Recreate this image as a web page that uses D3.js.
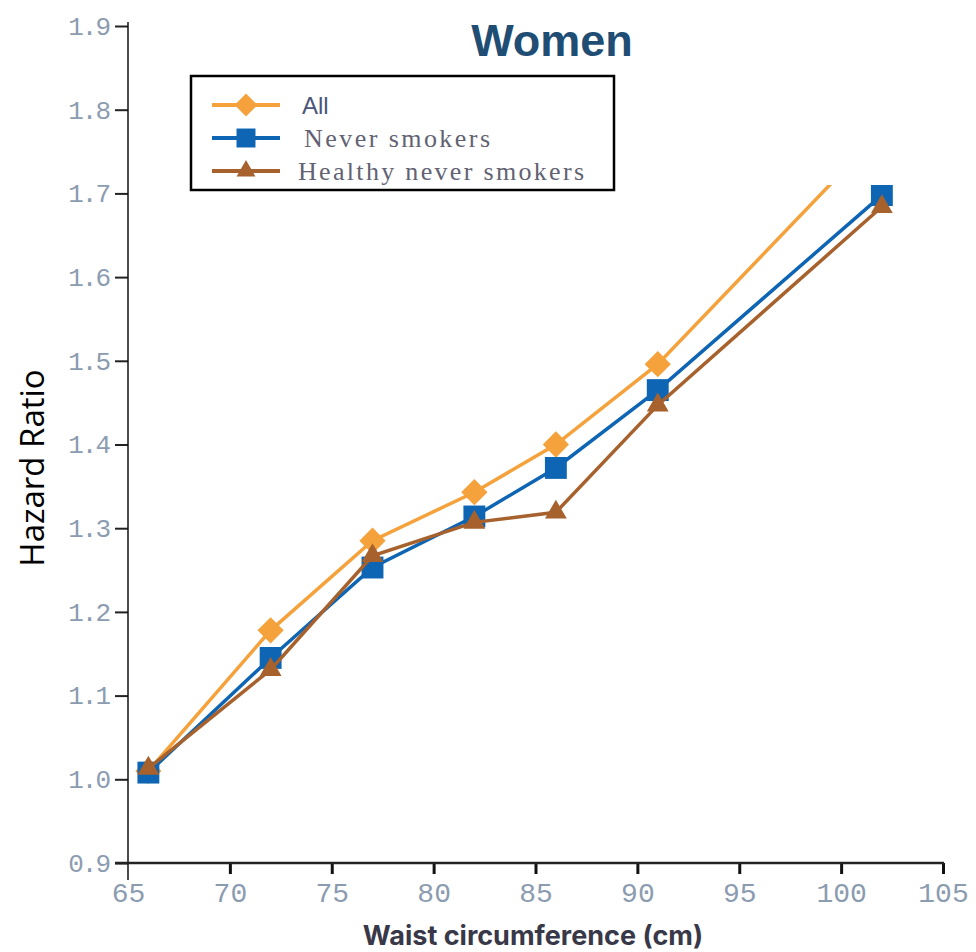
<!DOCTYPE html>
<html>
<head>
<meta charset="utf-8">
<script src="https://cdn.jsdelivr.net/npm/d3@7"></script>
<style>
  body { margin: 0; background: #fff; }
  .tick text { font-family: "Liberation Mono", monospace; fill: #8c9cb0; }
</style>
</head>
<body>
<div id="chart"></div>
<script>
// waist circumference categories (cm)
var waist = [66, 72, 77, 82, 86, 91, 102];
var allHR = [1.01, 1.178, 1.285, 1.343, 1.400, 1.496, 1.775];
var neverHR = [1.008, 1.145, 1.253, 1.314, 1.372, 1.465, 1.698];
var healthyHR = [1.013, 1.131, 1.267, 1.307, 1.319, 1.447, 1.684];
var seriesNames = ["All", "Never smokers", "Healthy never smokers"];
var xTicks = [65, 70, 75, 80, 85, 90, 95, 100, 105];
var yTicks = [0.9, 1.0, 1.1, 1.2, 1.3, 1.4, 1.5, 1.6, 1.7, 1.8, 1.9];

var width = 976, height = 952;
var svg = d3.select('#chart').append('svg')
  .attr('width', width)
  .attr('height', height);

var xScale = d3.scaleLinear().domain([65, 105]).range([128, 943]);
var yScale = d3.scaleLinear().domain([0.9, 1.9]).range([863, 26]);

var series = [
  { name: seriesNames[0], values: allHR, color: '#f5a23c', symbol: d3.symbolDiamond2, size: 440 },
  { name: seriesNames[1], values: neverHR, color: '#0e65b3', symbol: d3.symbolSquare2, size: 610 },
  { name: seriesNames[2], values: healthyHR, color: '#a6612d', symbol: d3.symbolTriangle2, size: 340 }
];

// title
svg.append('text')
  .attr('x', 552).attr('y', 56)
  .attr('text-anchor', 'middle')
  .style('font-family', '"Liberation Sans", Arial, sans-serif')
  .style('font-weight', 'bold')
  .style('font-size', '45px')
  .style('fill', '#1f4d74')
  .text('Women');

// axes
var yAxis = d3.axisLeft(yScale).tickValues(yTicks).tickFormat(d3.format('.1f')).tickSize(13).tickPadding(6);
var gy = svg.append('g').attr('transform', 'translate(128,0)').call(yAxis);
gy.select('.domain').remove();
gy.selectAll('.tick line').attr('stroke', '#222').attr('stroke-width', 2);
gy.selectAll('.tick text').style('font-size', '26px').attr('letter-spacing', '-2');
svg.append('line')
  .attr('x1', 128).attr('x2', 128).attr('y1', 22).attr('y2', 880)
  .attr('stroke', '#111').attr('stroke-width', 1.5);

var xAxis = d3.axisBottom(xScale).tickValues(xTicks).tickSize(11).tickPadding(8);
var gx = svg.append('g').attr('transform', 'translate(0,' + yScale(0.9) + ')').call(xAxis);
gx.select('.domain').remove();
gx.selectAll('.tick line').attr('stroke', '#111').attr('stroke-width', 3)
  .filter(function (d) { return d === 65; }).remove();
gx.selectAll('.tick text').style('font-size', '28px');
svg.append('line')
  .attr('x1', 115).attr('x2', 944).attr('y1', yScale(0.9)).attr('y2', yScale(0.9))
  .attr('stroke', '#222').attr('stroke-width', 2.5);

// axis titles
svg.append('text')
  .attr('transform', 'translate(44,' + 468 + ') rotate(-90)')
  .attr('text-anchor', 'middle')
  .style('font-family', '"Open Sans", sans-serif')
  .style('font-size', '33px')
  .style('fill', '#000')
  .text('Hazard Ratio');

svg.append('text')
  .attr('x', 533).attr('y', 945)
  .attr('text-anchor', 'middle')
  .style('font-family', 'Inter, sans-serif')
  .style('font-weight', 'bold')
  .style('font-size', '27px')
  .style('fill', '#383848')
  .text('Waist circumference (cm)');

// data
svg.append('clipPath').attr('id', 'plotclip')
  .append('rect').attr('x', 128).attr('y', 185).attr('width', 830).attr('height', 720);

var plot = svg.append('g').attr('clip-path', 'url(#plotclip)');
var line = d3.line()
  .x(function (d, i) { return xScale(waist[i]); })
  .y(function (d) { return yScale(d); });

series.forEach(function (s) {
  var g = plot.append('g');
  g.append('path')
    .attr('d', line(s.values))
    .attr('fill', 'none')
    .attr('stroke', s.color)
    .attr('stroke-width', 3.5);
  g.selectAll('path.mark')
    .data(s.values)
    .enter()
    .append('path')
    .attr('class', 'mark')
    .attr('d', d3.symbol().type(s.symbol).size(s.size))
    .attr('transform', function (d, i) { return 'translate(' + xScale(waist[i]) + ',' + yScale(d) + ')'; })
    .attr('fill', s.color);
});

// legend
var legend = svg.append('g');
legend.append('rect')
  .attr('x', 191).attr('y', 76).attr('width', 423).attr('height', 114)
  .attr('fill', '#fff').attr('stroke', '#000').attr('stroke-width', 2.5);

var legendY = [105, 138, 171];
var legendFont = ['"Liberation Sans", Arial, sans-serif', '"Liberation Serif", "Times New Roman", serif', '"Liberation Serif", "Times New Roman", serif'];
var legendX = [302, 304, 298];
var legendW = [null, 186, 286];
series.forEach(function (s, i) {
  var item = legend.append('g');
  item.append('line')
    .attr('x1', 212).attr('x2', 280).attr('y1', legendY[i]).attr('y2', legendY[i])
    .attr('stroke', s.color).attr('stroke-width', 4);
  item.append('path')
    .attr('d', d3.symbol().type(s.symbol).size(s.size * 0.75))
    .attr('transform', 'translate(246,' + legendY[i] + ')')
    .attr('fill', s.color);
  var t = item.append('text')
    .attr('x', legendX[i]).attr('y', legendY[i] + 9)
    .style('font-family', legendFont[i])
    .style('font-size', i === 0 ? '24px' : '26px')
    .style('fill', i === 0 ? '#4a5678' : '#626272')
    .text(s.name);
  if (legendW[i]) t.attr('textLength', legendW[i]).attr('lengthAdjust', 'spacing');
});
</script>
</body>
</html>
